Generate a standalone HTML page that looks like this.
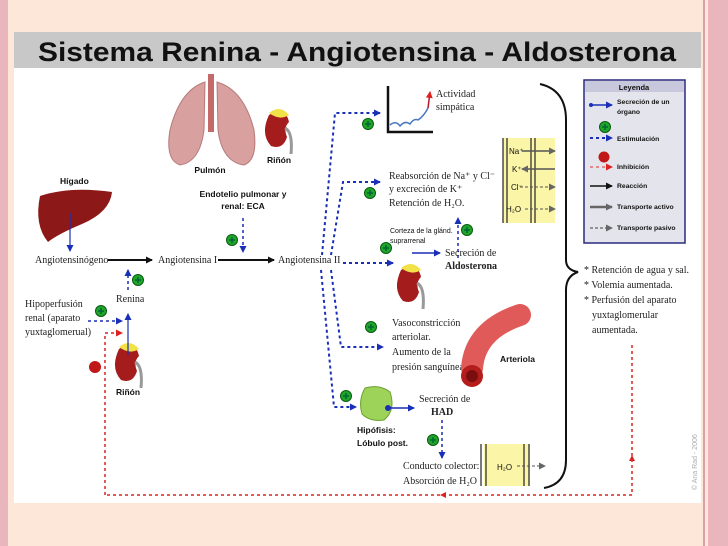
<!DOCTYPE html>
<html><head><meta charset="utf-8"><style>
html,body{margin:0;padding:0;width:728px;height:546px;overflow:hidden;background:#fde7d9}
svg{display:block}
.t{font-family:"Liberation Serif",serif;font-size:10px;fill:#222}
.b{font-family:"Liberation Sans",sans-serif;font-size:8.5px;font-weight:bold;fill:#111}
</style></head><body>
<svg width="728" height="546" viewBox="0 0 728 546" xmlns="http://www.w3.org/2000/svg">
<defs>
<marker id="ab" markerUnits="userSpaceOnUse" markerWidth="7" markerHeight="7" refX="6" refY="3.5" orient="auto"><path d="M0,0L7,3.5L0,7z" fill="#1a2fb8"/></marker>
<marker id="ak" markerUnits="userSpaceOnUse" markerWidth="7" markerHeight="7" refX="6" refY="3.5" orient="auto"><path d="M0,0L7,3.5L0,7z" fill="#111"/></marker>
<marker id="ar" markerUnits="userSpaceOnUse" markerWidth="7" markerHeight="7" refX="6" refY="3.5" orient="auto"><path d="M0,0L7,3.5L0,7z" fill="#d22"/></marker>
<marker id="ag" markerUnits="userSpaceOnUse" markerWidth="7" markerHeight="7" refX="6" refY="3.5" orient="auto"><path d="M0,0L7,3.5L0,7z" fill="#666"/></marker>
<g id="plus"><circle r="5.5" fill="#1ea52a" stroke="#0a5a10" stroke-width="1"/><path d="M-3,0H3M0,-3V3" stroke="#063" stroke-width="1.5"/></g>
<g id="kid"><path d="M-9,-13 Q7,-24 11,-6 Q5,0 9,9 Q5,22 -7,18 Q-18,6 -9,-13z" fill="#a51c1c"/><path d="M-9,-15 Q2,-24 11,-13 Q2,-7 -9,-15z" fill="#f2e24a"/><path d="M7,0 Q15,4 13,26" stroke="#999" stroke-width="3" fill="none"/></g>
</defs>
<rect x="0" y="0" width="8" height="546" fill="#e9b6bd"/>
<rect x="708" y="0" width="20" height="546" fill="#e9b6bd"/>
<rect x="703" y="0" width="2" height="546" fill="#d8a0a8"/>
<rect x="14" y="32" width="687" height="471" fill="#fff"/>
<rect x="14" y="32" width="687" height="36" fill="#c8c8c8"/>
<text x="38" y="61" textLength="638" lengthAdjust="spacingAndGlyphs" font-family="Liberation Sans,sans-serif" font-size="27" font-weight="bold" fill="#111">Sistema Renina - Angiotensina - Aldosterona</text>

<!-- lungs -->
<path d="M205,82 Q180,90 170,130 Q165,160 180,165 Q200,162 204,130z" fill="#d9a0a0" stroke="#b57a7a"/>
<path d="M217,82 Q244,90 254,130 Q258,160 244,165 Q222,162 218,130z" fill="#d9a0a0" stroke="#b57a7a"/>
<rect x="208" y="74" width="6" height="58" fill="#c46a6a"/>
<text x="210" y="173" class="b" text-anchor="middle">Pulmón</text>
<use href="#kid" x="278" y="128"/>
<text x="279" y="163" class="b" text-anchor="middle">Riñón</text>
<!-- liver -->
<path d="M40,196 Q70,186 112,192 Q110,212 82,224 Q58,234 48,242 Q34,225 40,196z" fill="#8c1818"/>
<text x="60" y="184" class="b">Hígado</text>
<line x1="70" y1="213" x2="70" y2="251" stroke="#1a2fb8" stroke-width="1.2" marker-end="url(#ab)"/>

<!-- main row -->
<text x="35" y="263" class="t" font-size="9.5">Angiotensinógeno</text>
<line x1="108" y1="260" x2="152" y2="260" stroke="#111" stroke-width="2" marker-end="url(#ak)"/>
<text x="158" y="263" class="t" font-size="9.5">Angiotensina I</text>
<line x1="218" y1="260" x2="274" y2="260" stroke="#111" stroke-width="2" marker-end="url(#ak)"/>
<text x="278" y="263" class="t" font-size="9.5">Angiotensina II</text>

<text x="243" y="197" class="b" text-anchor="middle">Endotelio pulmonar y</text>
<text x="243" y="209" class="b" text-anchor="middle">renal: ECA</text>
<line x1="243" y1="218" x2="243" y2="252" stroke="#1a2fb8" stroke-width="1.5" stroke-dasharray="3,3" marker-end="url(#ab)"/>
<use href="#plus" x="232" y="240"/>

<line x1="128" y1="290" x2="128" y2="270" stroke="#1a2fb8" stroke-width="1.5" stroke-dasharray="3,3" marker-end="url(#ab)"/>
<use href="#plus" x="138" y="280"/>
<text x="116" y="302" class="t" font-size="9">Renina</text>
<text x="25" y="307" class="t" font-size="9">Hipoperfusión</text>
<text x="25" y="321" class="t" font-size="9">renal (aparato</text>
<text x="25" y="335" class="t" font-size="9">yuxtaglomerual)</text>
<use href="#plus" x="101" y="311"/>
<line x1="88" y1="321" x2="122" y2="321" stroke="#1a2fb8" stroke-width="1.5" stroke-dasharray="3,3" marker-end="url(#ab)"/>
<path d="M105,495 V333 H122" stroke="#d22" stroke-width="1.5" stroke-dasharray="3,3" fill="none" marker-end="url(#ar)"/>
<circle cx="95" cy="367" r="6" fill="#c01818"/>
<use href="#kid" x="128" y="362"/>
<line x1="128" y1="355" x2="128" y2="314" stroke="#1a2fb8" stroke-width="1.2" marker-end="url(#ab)"/>
<text x="128" y="395" class="b" text-anchor="middle">Riñón</text>

<!-- branches -->
<g stroke="#1a2fb8" stroke-width="2" stroke-dasharray="3,3" fill="none">
<path d="M322,255 L335,113 H380" marker-end="url(#ab)"/>
<path d="M331,255 L343,182 H380" marker-end="url(#ab)"/>
<path d="M343,263 H393" marker-end="url(#ab)"/>
<path d="M331,270 L341,347 H383" marker-end="url(#ab)"/>
<path d="M321,270 L334,407 H356" marker-end="url(#ab)"/>
</g>
<use href="#plus" x="368" y="124"/>
<use href="#plus" x="370" y="193"/>
<use href="#plus" x="386" y="248"/>
<use href="#plus" x="371" y="327"/>
<use href="#plus" x="346" y="396"/>

<!-- graph -->
<path d="M388,86 V132 H433" stroke="#111" stroke-width="2.5" fill="none"/>
<path d="M390,125 Q396,120 400,126 Q405,120 410,124 Q414,118 418,120 Q424,116 428,108" stroke="#4a78c0" stroke-width="1.5" fill="none"/>
<path d="M428,108 L430,92" stroke="#b01830" stroke-width="1.5" fill="none" marker-end="url(#ar)"/>
<text x="436" y="97" class="t" font-size="9">Actividad</text>
<text x="436" y="110" class="t" font-size="9">simpática</text>

<text x="389" y="179" class="t" font-size="9.5">Reabsorción de Na⁺ y Cl⁻</text>
<text x="389" y="192" class="t" font-size="9.5">y excreción de K⁺</text>
<text x="389" y="206" class="t" font-size="9.5">Retención de H₂O.</text>

<!-- ion box -->
<rect x="503" y="138" width="52" height="85" fill="#fbf5a8"/>
<g stroke="#222" stroke-width="1.2"><line x1="503" y1="138" x2="503" y2="223"/><line x1="507" y1="138" x2="507" y2="223"/><line x1="531" y1="138" x2="531" y2="223"/><line x1="535" y1="138" x2="535" y2="223"/></g>
<g font-family="Liberation Sans,sans-serif" font-size="8" fill="#111">
<text x="509" y="154">Na⁺</text><text x="512" y="172">K⁺</text><text x="511" y="190">Cl⁻</text><text x="506" y="212">H₂O</text></g>
<line x1="522" y1="151" x2="555" y2="151" stroke="#555" stroke-width="1.5" marker-end="url(#ag)"/>
<line x1="555" y1="169" x2="522" y2="169" stroke="#555" stroke-width="1.5" marker-end="url(#ag)"/>
<line x1="520" y1="187" x2="555" y2="187" stroke="#555" stroke-width="1" stroke-dasharray="3,2" marker-end="url(#ag)"/>
<line x1="525" y1="209" x2="555" y2="209" stroke="#555" stroke-width="1" stroke-dasharray="3,2" marker-end="url(#ag)"/>

<text x="390" y="233" font-family="Liberation Sans,sans-serif" font-size="7" fill="#111">Corteza de la glánd.</text>
<text x="390" y="243" font-family="Liberation Sans,sans-serif" font-size="7" fill="#111">suprarrenal</text>
<line x1="458" y1="258" x2="458" y2="218" stroke="#1a2fb8" stroke-width="1.5" stroke-dasharray="3,3" marker-end="url(#ab)"/>
<use href="#plus" x="467" y="230"/>
<use href="#kid" x="410" y="283"/>
<line x1="412" y1="253" x2="440" y2="253" stroke="#1a2fb8" stroke-width="1.5" marker-end="url(#ab)"/>
<text x="445" y="256" class="t" font-size="9">Secreción de</text>
<text x="445" y="269" class="t" font-size="9" font-weight="bold">Aldosterona</text>

<text x="392" y="326" class="t" font-size="9.5">Vasoconstricción</text>
<text x="392" y="340" class="t" font-size="9.5">arteriolar.</text>
<text x="392" y="355" class="t" font-size="9.5">Aumento de la</text>
<text x="392" y="370" class="t" font-size="9.5">presión sanguínea.</text>
<path d="M472,368 Q475,330 520,315" stroke="#e05a5a" stroke-width="22" fill="none" stroke-linecap="round"/>
<circle cx="472" cy="376" r="11" fill="#b51c1c"/>
<circle cx="472" cy="376" r="6" fill="#7a0e0e"/>
<text x="500" y="362" class="b">Arteriola</text>

<!-- pituitary -->
<path d="M365,388 Q380,384 390,392 Q396,410 384,420 Q370,422 362,414 Q358,400 365,388z" fill="#9ed35a" stroke="#6aa030"/>
<circle cx="388" cy="408" r="3" fill="#1a2fb8"/>
<line x1="388" y1="408" x2="414" y2="408" stroke="#1a2fb8" stroke-width="1.5" marker-end="url(#ab)"/>
<text x="419" y="402" class="t" font-size="8.5">Secreción de</text>
<text x="431" y="415" class="t" font-size="8.5" font-weight="bold">HAD</text>
<text x="357" y="433" class="b">Hipófisis:</text>
<text x="357" y="446" class="b">Lóbulo post.</text>
<use href="#plus" x="433" y="440"/>
<line x1="442" y1="420" x2="442" y2="458" stroke="#1a2fb8" stroke-width="1.5" stroke-dasharray="3,3" marker-end="url(#ab)"/>
<text x="403" y="469" class="t" font-size="9">Conducto colector:</text>
<text x="403" y="484" class="t" font-size="9">Absorción de H₂O</text>
<rect x="484" y="444" width="46" height="42" fill="#fbf5a8"/>
<g stroke="#222" stroke-width="1.2"><line x1="481" y1="444" x2="481" y2="486"/><line x1="486" y1="444" x2="486" y2="486"/><line x1="524" y1="444" x2="524" y2="486"/><line x1="529" y1="444" x2="529" y2="486"/></g>
<text x="497" y="470" font-family="Liberation Sans,sans-serif" font-size="8" fill="#111">H₂O</text>
<line x1="517" y1="466" x2="545" y2="466" stroke="#555" stroke-width="1" stroke-dasharray="3,2" marker-end="url(#ag)"/>

<!-- brace -->
<path d="M540,84 Q566,90 566,120 V260 Q566,270 578,272 Q566,276 566,290 V460 Q566,484 544,488" stroke="#111" stroke-width="2" fill="none"/>
<g class="t" font-size="10">
<text x="584" y="273">* Retención de agua y sal.</text>
<text x="584" y="288">* Volemia aumentada.</text>
<text x="584" y="303">* Perfusión del aparato</text>
<text x="592" y="318">yuxtaglomerular</text>
<text x="592" y="333">aumentada.</text></g>
<path d="M632,345 V495 H105" stroke="#d22" stroke-width="1.5" stroke-dasharray="3,3" fill="none"/>
<path d="M632,455 l-3,6 h6z" fill="#d22"/>
<path d="M440,495 l6,-3 v6z" fill="#d22"/>

<!-- legend -->
<rect x="584" y="80" width="101" height="163" fill="#e4e4ec" stroke="#2a2a80" stroke-width="1.5"/>
<rect x="585" y="81" width="99" height="11" fill="#c8c8dc"/>
<text x="634" y="90" font-family="Liberation Sans,sans-serif" font-size="7.5" font-weight="bold" text-anchor="middle" fill="#111">Leyenda</text>
<g font-family="Liberation Sans,sans-serif" font-size="6.8" font-weight="bold" fill="#111">
<circle cx="591" cy="105" r="2" fill="#1a2fb8"/><line x1="591" y1="105" x2="612" y2="105" stroke="#1a2fb8" stroke-width="1.5" marker-end="url(#ab)"/>
<text x="617" y="104">Secreción de un</text><text x="617" y="114">órgano</text>
<use href="#plus" x="605" y="127"/>
<line x1="590" y1="138" x2="612" y2="138" stroke="#1a2fb8" stroke-width="2" stroke-dasharray="3,3" marker-end="url(#ab)"/>
<text x="617" y="141">Estimulación</text>
<circle cx="604" cy="157" r="5.5" fill="#c01818"/>
<line x1="590" y1="167" x2="612" y2="167" stroke="#e56a6a" stroke-width="1.5" stroke-dasharray="3,3" marker-end="url(#ar)"/>
<text x="617" y="169">Inhibición</text>
<line x1="590" y1="186" x2="612" y2="186" stroke="#111" stroke-width="1.5" marker-end="url(#ak)"/>
<text x="617" y="188">Reacción</text>
<line x1="590" y1="207" x2="612" y2="207" stroke="#666" stroke-width="2.5" marker-end="url(#ag)"/>
<text x="617" y="209">Transporte activo</text>
<line x1="590" y1="228" x2="612" y2="228" stroke="#444" stroke-width="1" stroke-dasharray="3,2" marker-end="url(#ag)"/>
<text x="617" y="230">Transporte pasivo</text></g>

<text x="0" y="0" transform="translate(697,490) rotate(-90)" font-family="Liberation Sans,sans-serif" font-size="7" fill="#aaa">© Ana Rad - 2006</text>
</svg>
</body></html>
